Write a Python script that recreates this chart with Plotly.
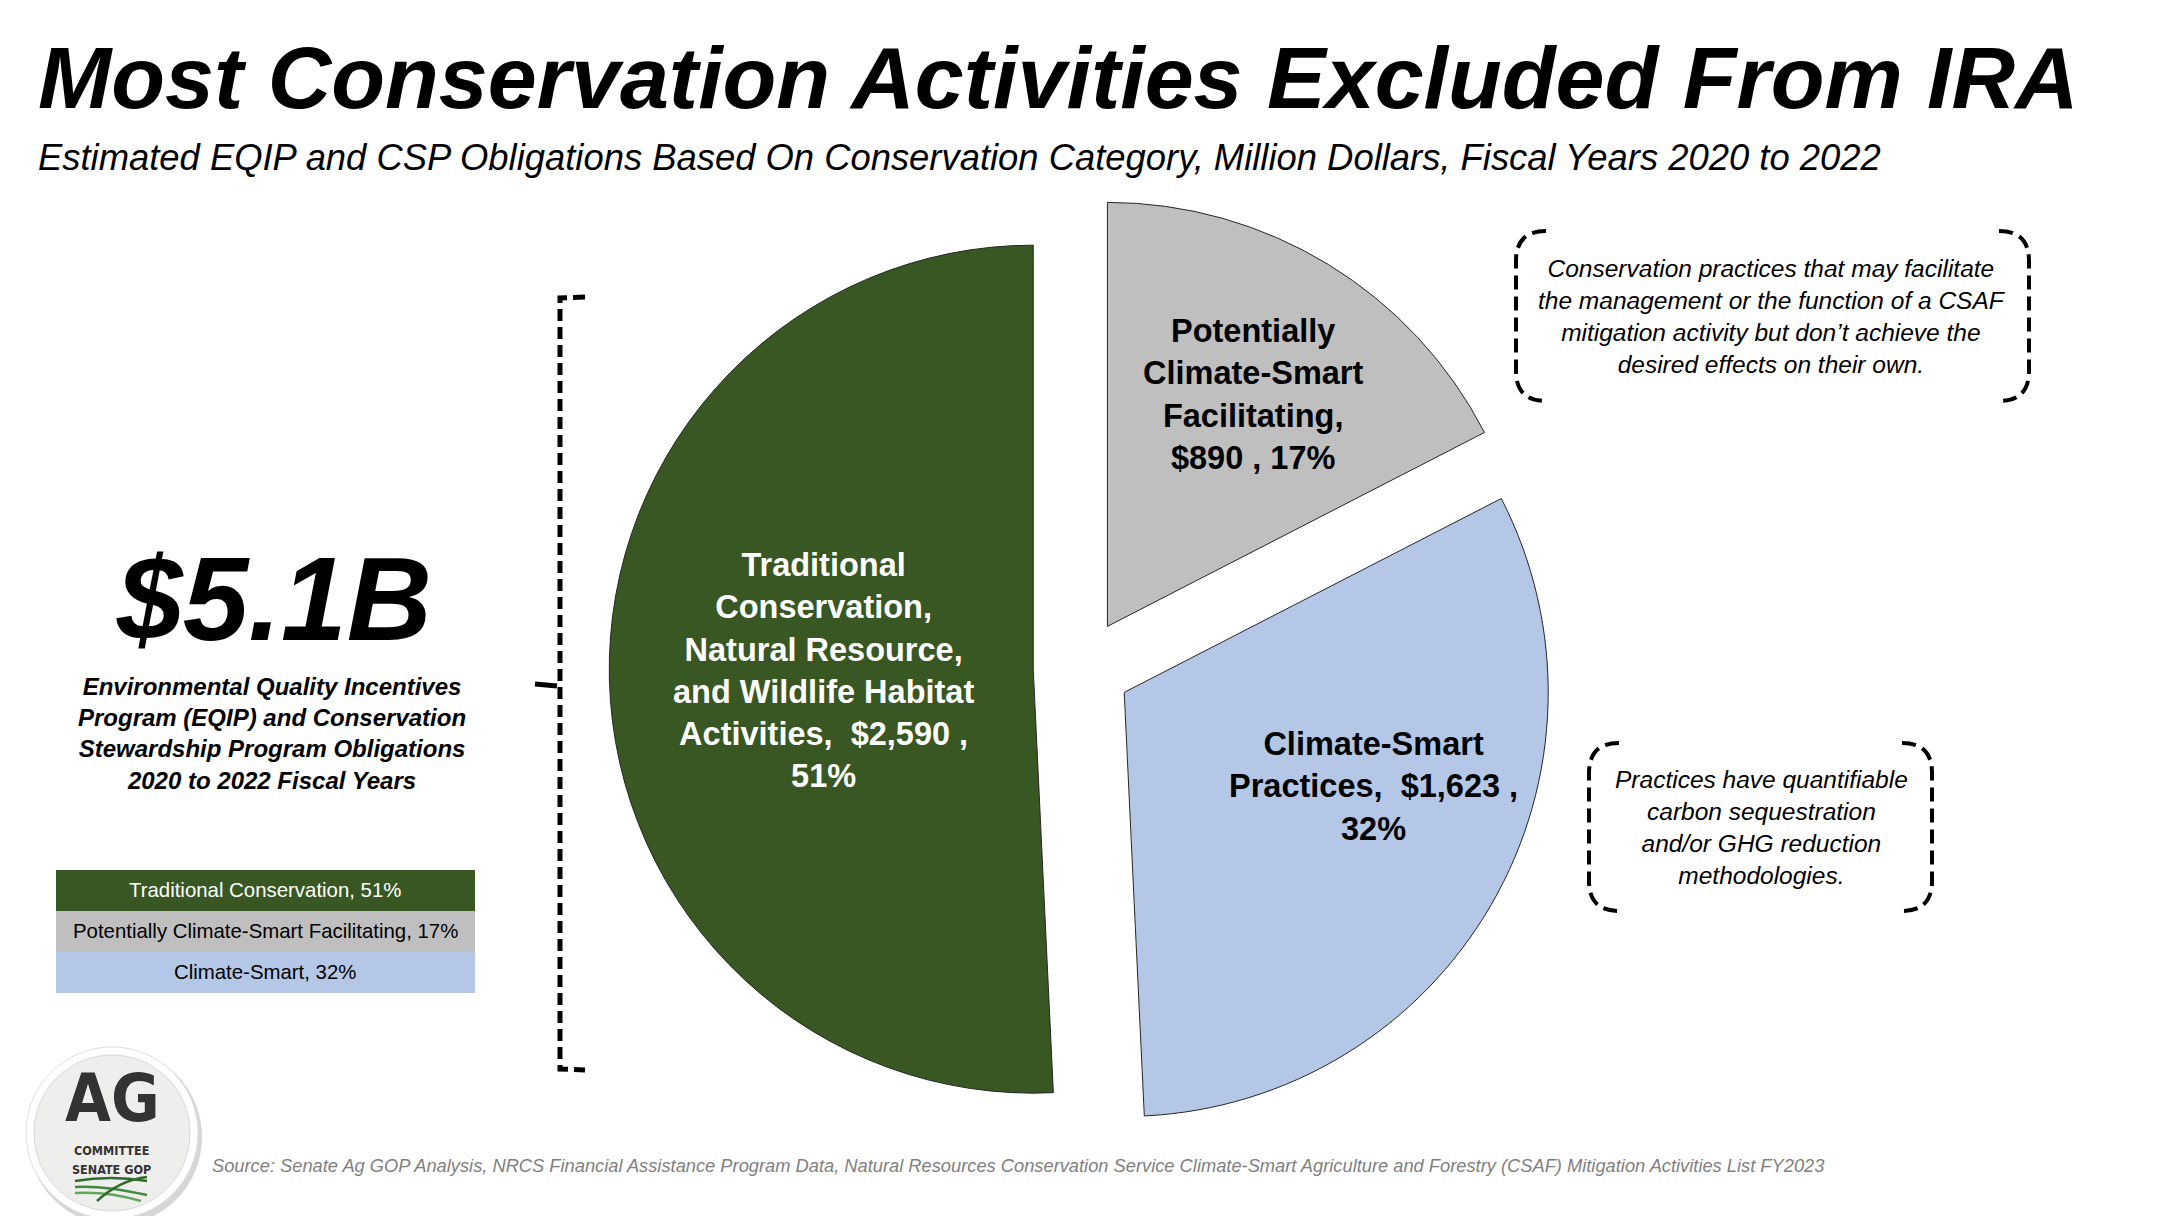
import plotly.graph_objects as go

# ---------------- data ----------------
categories = [
    "Potentially Climate-Smart Facilitating",
    "Climate-Smart Practices",
    "Traditional Conservation, Natural Resource, and Wildlife Habitat Activities",
]
short_names = ["Potentially Climate-Smart Facilitating", "Climate-Smart", "Traditional Conservation"]
values = [890, 1623, 2590]          # million dollars
colors = ["#bfbfbf", "#b4c7e7", "#385723"]
text_colors = ["#000000", "#000000", "#ffffff"]

# label text split into lines as in the reference
label_lines = [
    ["Potentially", "Climate-Smart", "Facilitating,"],
    ["Climate-Smart", "Practices,"],
    ["Traditional", "Conservation,", "Natural Resource,", "and Wildlife Habitat", "Activities,"],
]
legend_order = [2, 0, 1]

note_facilitating = ["Conservation practices that may facilitate",
                     "the management or the function of a CSAF",
                     "mitigation activity but don\u2019t achieve the",
                     "desired effects on their own."]
note_smart = ["Practices have quantifiable", "carbon sequestration",
              "and/or GHG reduction", "methodologies."]

W, H = 2175, 1216
FONT = "Liberation Sans, Arial, sans-serif"

total = sum(values)
pcts = [round(v / total * 100) for v in values]


def px(x):
    return x / W


def py(y):
    return 1 - y / H


def path_from(points_cmds):
    out = []
    for cmd, pts in points_cmds:
        s = cmd + " " + " ".join(f"{px(x):.5f},{py(y):.5f}" for x, y in pts)
        out.append(s)
    return " ".join(out)


fig = go.Figure()

# pie geometry
pull = 0.115
cxp, cyp, R = 1074, 660, 424
half = R * (1 + pull)
fig.add_trace(go.Pie(
    labels=categories,
    values=values,
    sort=False,
    direction="clockwise",
    rotation=0,
    pull=[pull] * len(values),
    marker=dict(colors=colors, line=dict(color="#262626", width=1)),
    textinfo="none",
    hoverinfo="skip",
    showlegend=False,
    domain=dict(x=[px(cxp - half), px(cxp + half)], y=[py(cyp + half), py(cyp - half)]),
))

annotations = []
shapes = []

# pie labels
label_pos = [(1245, 387), (1365, 778), (815, 662)]
for i in range(3):
    lines = list(label_lines[i])
    money = f"${values[i]:,}"
    if i == 0:
        lines.append(f"{money} , {pcts[i]}%")
    else:
        lines[-1] = lines[-1] + "\u00a0\u00a0" + money + " ,"
        lines.append(f"{pcts[i]}%")
    annotations.append(dict(
        x=px(label_pos[i][0]), y=py(label_pos[i][1]), xref="paper", yref="paper",
        text="<br>".join(f"<b>{l}</b>" for l in lines), showarrow=False,
        xanchor="center", yanchor="middle", align="center",
        font=dict(family=FONT, size=32.5, color=text_colors[i]),
    ))

# title & subtitle
annotations.append(dict(
    x=px(28), y=py(70), xref="paper", yref="paper", xanchor="left", yanchor="middle",
    text="<b><i>Most Conservation Activities Excluded From IRA</i></b>", showarrow=False,
    font=dict(family=FONT, size=88, color="#000000"),
))
annotations.append(dict(
    x=px(28), y=py(149), xref="paper", yref="paper", xanchor="left", yanchor="middle",
    text="<i>Estimated EQIP and CSP Obligations Based On Conservation Category, Million Dollars, Fiscal Years 2020 to 2022</i>",
    showarrow=False, font=dict(family=FONT, size=36.4, color="#000000"),
))

# big total
annotations.append(dict(
    x=px(266), y=py(591), xref="paper", yref="paper", xanchor="center", yanchor="middle",
    text=f"<b><i>${total / 1000:.1f}B</i></b>", showarrow=False,
    font=dict(family=FONT, size=118, color="#000000"),
))
annotations.append(dict(
    x=px(264), y=py(725), xref="paper", yref="paper", xanchor="center", yanchor="middle",
    text="<b><i>Environmental Quality Incentives<br>Program (EQIP) and Conservation<br>"
         "Stewardship Program Obligations<br>2020 to 2022 Fiscal Years</i></b>",
    showarrow=False, font=dict(family=FONT, size=24, color="#000000"),
))

# legend table
rows_y = [(862, 903), (903, 944), (944, 985)]
for k, idx in enumerate(legend_order):
    y0, y1 = rows_y[k]
    shapes.append(dict(type="rect", xref="paper", yref="paper",
                       x0=px(48), x1=px(467), y0=py(y1), y1=py(y0),
                       fillcolor=colors[idx], line=dict(width=0), layer="below"))
    annotations.append(dict(
        x=px(257), y=py((y0 + y1) / 2 - 1), xref="paper", yref="paper",
        xanchor="center", yanchor="middle", showarrow=False,
        text=f"{short_names[idx]}, {pcts[idx]}%",
        font=dict(family=FONT, size=20.4, color=text_colors[idx]),
    ))

# big dashed bracket
br = dict(color="#000000", width=5, dash="12px,6px")
shapes.append(dict(type="path", xref="paper", yref="paper",
                   path=path_from([("M", [(577, 289)]), ("L", [(552, 290)]), ("L", [(552, 1061)]), ("L", [(577, 1062)])]),
                   line=br))
shapes.append(dict(type="line", xref="paper", yref="paper",
                   x0=px(527), x1=px(549), y0=py(676), y1=py(678),
                   line=dict(color="#000000", width=5)))


def bracket_box(x0, y0, x1, y1, rc=30):
    for side in (0, 1):
        if side == 0:
            p = path_from([("M", [(x0 + rc, y0)]), ("Q", [(x0, y0), (x0, y0 + rc)]),
                           ("L", [(x0, y1 - rc)]), ("Q", [(x0, y1), (x0 + rc, y1)])])
        else:
            p = path_from([("M", [(x1 - rc, y0)]), ("Q", [(x1, y0), (x1, y0 + rc)]),
                           ("L", [(x1, y1 - rc)]), ("Q", [(x1, y1), (x1 - rc, y1)])])
        shapes.append(dict(type="path", xref="paper", yref="paper", path=p,
                           line=dict(color="#000000", width=4, dash="14px,7px")))


bracket_box(1508, 223, 2021, 393)
bracket_box(1581, 735, 1924, 903)

annotations.append(dict(
    x=px(1764), y=py(308), xref="paper", yref="paper", xanchor="center", yanchor="middle",
    text="<i>" + "<br>".join(note_facilitating) + "</i>", showarrow=False,
    font=dict(family=FONT, size=24.5, color="#000000"),
))
annotations.append(dict(
    x=px(1753), y=py(819), xref="paper", yref="paper", xanchor="center", yanchor="middle",
    text="<i>" + "<br>".join(note_smart) + "</i>", showarrow=False,
    font=dict(family=FONT, size=24.5, color="#000000"),
))

# source
annotations.append(dict(
    x=px(202), y=py(1157), xref="paper", yref="paper", xanchor="left", yanchor="middle",
    text="<i>Source: Senate Ag GOP Analysis, NRCS Financial Assistance Program Data, Natural Resources "
         "Conservation Service Climate-Smart Agriculture and Forestry (CSAF) Mitigation Activities List FY2023</i>",
    showarrow=False, font=dict(family=FONT, size=18.3, color="#7f7f7f"),
))

# logo
lcx, lcy, lr = 104, 1125, 86
shapes.append(dict(type="circle", xref="paper", yref="paper",
                   x0=px(lcx - lr + 2), x1=px(lcx + lr + 4), y0=py(lcy + lr + 6), y1=py(lcy - lr + 2),
                   fillcolor="rgba(0,0,0,0.16)", line=dict(width=0)))
shapes.append(dict(type="circle", xref="paper", yref="paper",
                   x0=px(lcx - lr), x1=px(lcx + lr), y0=py(lcy + lr), y1=py(lcy - lr),
                   fillcolor="#ffffff", line=dict(color="#e0e0e0", width=1)))
lr2 = lr - 8
shapes.append(dict(type="circle", xref="paper", yref="paper",
                   x0=px(lcx - lr2), x1=px(lcx + lr2), y0=py(lcy + lr2), y1=py(lcy - lr2),
                   fillcolor="#eeeeec", line=dict(color="#d8d8d8", width=1)))
NARROW = "Liberation Sans Narrow, DejaVu Sans Condensed, Arial Narrow, sans-serif"
annotations.append(dict(x=px(104), y=py(1090), xref="paper", yref="paper", xanchor="center", yanchor="middle",
                        text="<b>AG</b>", showarrow=False, font=dict(family=NARROW, size=66, color="#333333")))
annotations.append(dict(x=px(103), y=py(1142), xref="paper", yref="paper", xanchor="center", yanchor="middle",
                        text="<b>COMMITTEE</b>", showarrow=False, font=dict(family=NARROW, size=12.5, color="#333333")))
annotations.append(dict(x=px(103), y=py(1161), xref="paper", yref="paper", xanchor="center", yanchor="middle",
                        text="<b>SENATE GOP</b>", showarrow=False, font=dict(family=NARROW, size=12.5, color="#333333")))
for pts, col in [
    (((67, 1173), (103, 1167), (139, 1173)), "#2f6b2a"),
    (((67, 1179), (94, 1177), (139, 1187)), "#3f8a3a"),
    (((67, 1185), (99, 1183), (133, 1193)), "#5fa85a"),
    (((89, 1193), (112, 1172), (139, 1169)), "#2f6b2a"),
]:
    shapes.append(dict(type="path", xref="paper", yref="paper",
                       path=path_from([("M", [pts[0]]), ("Q", [pts[1], pts[2]])]),
                       line=dict(color=col, width=2.5)))

fig.update_layout(
    width=W, height=H,
    margin=dict(l=0, r=0, t=0, b=0),
    paper_bgcolor="#ffffff", plot_bgcolor="#ffffff",
    annotations=annotations, shapes=shapes,
    showlegend=False,
)
fig.write_html("out.html")
